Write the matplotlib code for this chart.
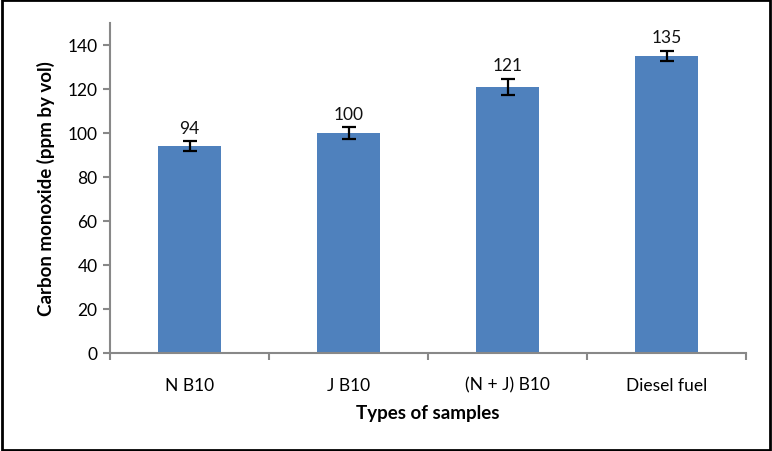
import matplotlib
matplotlib.use("Agg")
import matplotlib.pyplot as plt
from matplotlib.patches import Rectangle

categories = ["N B10", "J B10", "(N + J) B10", "Diesel fuel"]
values = [94, 100, 121, 135]
errors = [2.2, 2.6, 3.7, 2.4]
value_labels = ["94", "100", "121", "135"]
yticks = [0, 20, 40, 60, 80, 100, 120, 140]

plt.rcParams['font.family'] = ['Lato', 'DejaVu Sans']

fig = plt.figure(figsize=(7.72, 4.52), dpi=100)
ax = fig.add_axes([110/772, 1-354/452, 636/772, 330/452])

x = list(range(len(categories)))
ax.bar(x, values, width=0.4, color="#4F81BD", zorder=2)
ax.errorbar(x, values, yerr=errors, fmt="none", ecolor="black", elinewidth=1.6,
            capsize=5, capthick=1.6, zorder=3)
for xi, v, e, lab in zip(x, values, errors, value_labels):
    ax.text(xi, v + e + 2.5, lab, ha="center", va="bottom", fontsize=12.5, color="#111111")

ax.set_xlim(-0.5, len(categories) - 0.5)
ax.set_ylim(0, 150)
ax.set_yticks(yticks)
ax.set_yticklabels([str(t) for t in yticks], fontsize=12.5)
ax.set_xticks(x)
ax.set_xticklabels(categories, fontsize=12.5)
ax.set_xticks([i - 0.5 for i in range(len(categories) + 1)], minor=True)
ax.tick_params(axis="x", which="major", length=0, pad=17)
ax.tick_params(axis="x", which="minor", length=5, color="#888888", width=1.5)
ax.tick_params(axis="y", length=5, color="#888888", width=1.5, pad=4)
for s in ["top", "right"]:
    ax.spines[s].set_visible(False)
for s in ["left", "bottom"]:
    ax.spines[s].set_color("#888888")
    ax.spines[s].set_linewidth(1.5)

ax.set_xlabel("Types of samples", fontsize=13.5, fontweight="bold", labelpad=8)
ax.set_ylabel("Carbon monoxide (ppm by vol)", fontsize=13.5, fontweight="bold", labelpad=9)

fig.patches.append(Rectangle((0.002, 0.003), 0.996, 0.994, transform=fig.transFigure,
                             fill=False, edgecolor="black", linewidth=2))
fig.savefig("out.png", dpi=100)
